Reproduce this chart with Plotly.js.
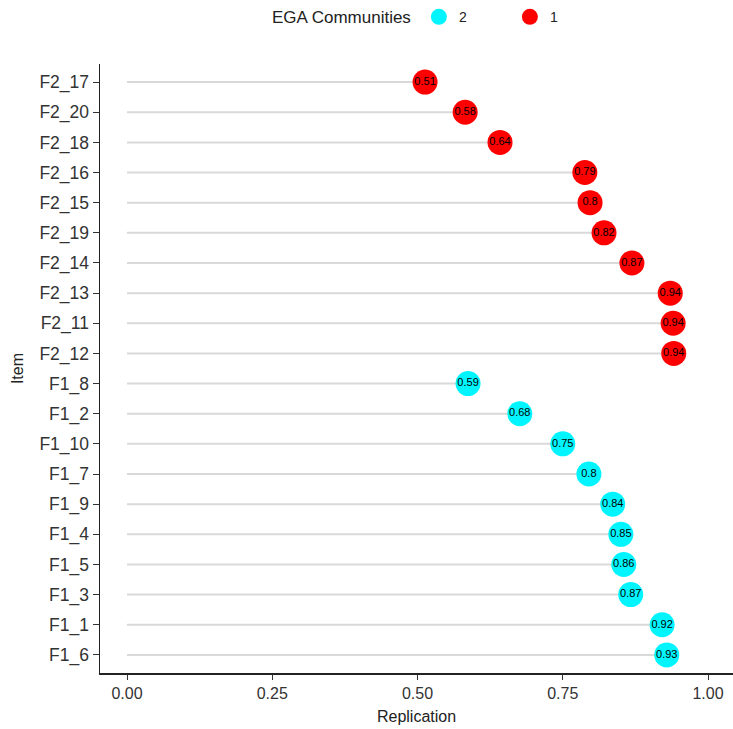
<!DOCTYPE html>
<html>
<head>
<meta charset="utf-8">
<script src="https://cdn.plot.ly/plotly-3.0.1.min.js"></script>
<style>html,body{margin:0;padding:0;background:#fff;}#chart{width:733px;height:729px;}</style>
</head>
<body>
<div id="chart"></div>
<script>
// Items in top-to-bottom order
var items = ["F2_17","F2_20","F2_18","F2_16","F2_15","F2_19","F2_14","F2_13","F2_11","F2_12",
             "F1_8","F1_2","F1_10","F1_7","F1_9","F1_4","F1_5","F1_3","F1_1","F1_6"];
var replication = [0.513,0.582,0.642,0.788,0.797,0.821,0.869,0.935,0.940,0.941,
                   0.587,0.676,0.750,0.795,0.836,0.850,0.855,0.867,0.921,0.929];
var labels = ["0.51","0.58","0.64","0.79","0.8","0.82","0.87","0.94","0.94","0.94",
              "0.59","0.68","0.75","0.8","0.84","0.85","0.86","0.87","0.92","0.93"];
var community = ["1","1","1","1","1","1","1","1","1","1",
                 "2","2","2","2","2","2","2","2","2","2"];
var communityOrder = ["2","1"];
var communityColors = {"2":"#00F5FF","1":"#FF0000"};
var xTicks = [0, 0.25, 0.5, 0.75, 1.0];
var xTickLabels = ["0.00","0.25","0.50","0.75","1.00"];

var segX = [], segY = [];
for (var i = 0; i < items.length; i++) {
  segX.push(0, replication[i], null);
  segY.push(items[i], items[i], null);
}
var traces = [{
  type: "scatter", mode: "lines", x: segX, y: segY,
  line: {color: "#d9d9d9", width: 2}, hoverinfo: "skip", showlegend: false
}];
communityOrder.forEach(function(c) {
  var xs = [], ys = [], ts = [];
  for (var i = 0; i < items.length; i++) {
    if (community[i] === c) { xs.push(replication[i]); ys.push(items[i]); ts.push(labels[i]); }
  }
  traces.push({
    type: "scatter", mode: "markers+text", name: c, x: xs, y: ys, text: ts,
    textposition: "middle center",
    textfont: {family: "Liberation Sans, Arial, sans-serif", size: 11, color: "#000"},
    marker: {color: communityColors[c], size: 25, line: {width: 0}}
  });
});

var fontFam = "Liberation Sans, Arial, sans-serif";
var layout = {
  width: 733, height: 729,
  margin: {l: 100, r: 0, t: 64, b: 56},
  paper_bgcolor: "#fff", plot_bgcolor: "#fff",
  font: {family: fontFam, color: "#222"},
  showlegend: true,
  legend: {
    orientation: "h", x: 0.53, xanchor: "center", y: 1.076, yanchor: "middle",
    title: {text: "EGA Communities", font: {family: fontFam, size: 17, color: "#222"}, side: "left"},
    font: {family: fontFam, size: 14, color: "#222"},
    itemsizing: "trace", traceorder: "normal",
    entrywidth: 46, entrywidthmode: "pixels"
  },
  xaxis: {
    range: [-0.0465, 1.043], tickvals: xTicks, ticktext: xTickLabels,
    showgrid: false, zeroline: false, showline: true, linecolor: "#222", linewidth: 1.5,
    ticks: "outside", ticklen: 5, tickcolor: "#333", tickwidth: 1,
    tickfont: {family: fontFam, size: 16, color: "#333"},
    title: {text: "Replication", font: {family: fontFam, size: 16, color: "#222"}, standoff: 10},
    fixedrange: true
  },
  yaxis: {
    type: "category", categoryorder: "array", categoryarray: items.slice().reverse(),
    range: [-0.6, items.length - 0.4],
    showgrid: false, zeroline: false, showline: true, linecolor: "#222", linewidth: 1.5,
    ticks: "outside", ticklen: 6, tickcolor: "#333", tickwidth: 1,
    tickfont: {family: fontFam, size: 17.5, color: "#333"},
    title: {text: "Item", font: {family: fontFam, size: 16, color: "#222"}, standoff: 12},
    fixedrange: true
  }
};
Plotly.newPlot("chart", traces, layout, {displayModeBar: false, staticPlot: true});
</script>
</body>
</html>
